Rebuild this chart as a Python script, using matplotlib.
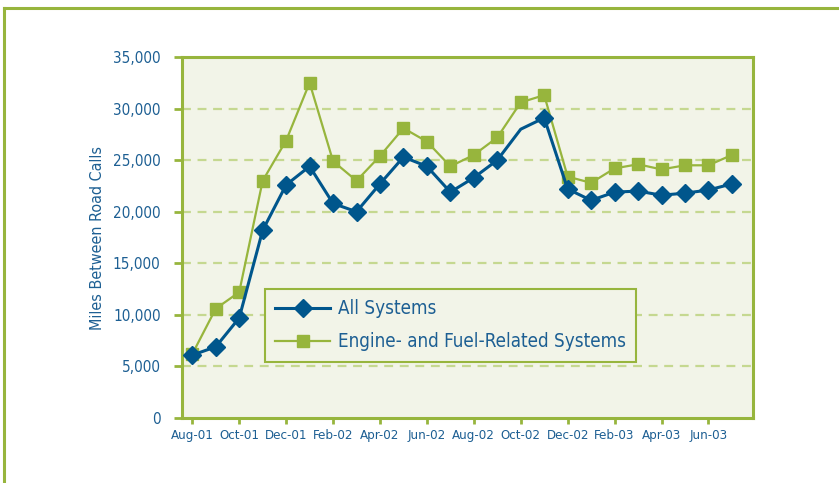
import matplotlib
matplotlib.use('Agg')
import matplotlib.pyplot as plt
from matplotlib.lines import Line2D
import numpy as np

# data (monthly, Aug-01 .. Jul-03)
months = ['Aug-01', 'Sep-01', 'Oct-01', 'Nov-01', 'Dec-01', 'Jan-02', 'Feb-02', 'Mar-02',
          'Apr-02', 'May-02', 'Jun-02', 'Jul-02', 'Aug-02', 'Sep-02', 'Oct-02', 'Nov-02',
          'Dec-02', 'Jan-03', 'Feb-03', 'Mar-03', 'Apr-03', 'May-03', 'Jun-03', 'Jul-03']
all_systems = [6100, 6900, 9700, 18200, 22600, 24400, 20800, 20000,
               22700, 25300, 24400, 21900, 23300, 25000, 28000, 29100,
               22200, 21100, 21900, 22000, 21600, 21800, 22100, 22700]
engine_fuel = [6200, 10600, 12200, 23000, 26900, 32500, 24900, 23000,
               25400, 28100, 26800, 24400, 25500, 27200, 30600, 31300,
               23400, 22800, 24200, 24600, 24100, 24500, 24500, 25500]
yticks = [0, 5000, 10000, 15000, 20000, 25000, 30000, 35000]

BLUE = '#00568c'
GREEN = '#97b53d'
BG = '#f2f4e8'
GRID = '#c5d890'
TXT = '#1d5f93'

plt.rcParams['font.family'] = ['DejaVu Sans']
plt.rcParams['font.stretch'] = 'condensed'

fig = plt.figure(figsize=(8.39, 4.83), dpi=100)
ax = fig.add_axes([181.5 / 839, 1 - 418 / 483, (753 - 181.5) / 839, (418 - 57) / 483])
ax.set_facecolor(BG)

x = np.arange(len(months))
# blue line has no marker at Oct-02
mk = [i for i in range(len(months)) if i != 14]
ax.plot(x, engine_fuel, color=GREEN, lw=1.6, marker='s', ms=8.5,
        mec=GREEN, mfc=GREEN, zorder=3, label='Engine- and Fuel-Related Systems')
ax.plot(x, all_systems, color=BLUE, lw=2.2, marker='D', ms=9.5, markevery=mk,
        mec=BLUE, mfc=BLUE, zorder=4, label='All Systems')

ax.set_xlim(-0.46, 23.9)
ax.set_ylim(0, 35000)
ax.set_yticks(yticks)
ax.set_yticklabels([f'{v:,}' for v in yticks])
ax.set_xticks(x[::2])
ax.set_xticklabels(months[::2])

for v in yticks[1:-1]:
    ax.axhline(v, color=GRID, lw=1.6, ls=(0, (4, 3)), zorder=1)

for s in ax.spines.values():
    s.set_color(GREEN)
    s.set_linewidth(2.2)
ax.tick_params(axis='y', colors=GREEN, labelcolor=TXT, length=6, width=2, pad=9, labelsize=11)
ax.tick_params(axis='x', colors=GREEN, labelcolor=TXT, length=4, width=2, pad=4, labelsize=9.5)
ax.set_ylabel('Miles Between Road Calls', color=TXT, fontsize=11.5, labelpad=6)

h, l = ax.get_legend_handles_labels()
leg = ax.legend(h[::-1], l[::-1], loc='upper left', bbox_to_anchor=(83.5 / 571.5, 129 / 361),
                borderaxespad=0, fontsize=13.5, frameon=True, fancybox=False, facecolor=BG,
                edgecolor=GREEN, framealpha=1, handlelength=2.9, handletextpad=0.45,
                borderpad=0.55, labelspacing=0.75)
leg.get_frame().set_linewidth(1.5)
for t in leg.get_texts():
    t.set_color(TXT)

# outer frame
fig.add_artist(Line2D([4 / 839, 4 / 839], [0, 1 - 7.5 / 483], transform=fig.transFigure,
                      color=GREEN, lw=2.2, solid_capstyle='projecting'))
fig.add_artist(Line2D([4 / 839, 1], [1 - 7.5 / 483, 1 - 7.5 / 483], transform=fig.transFigure,
                      color=GREEN, lw=2.2, solid_capstyle='projecting'))

fig.savefig('out.png', dpi=100)
